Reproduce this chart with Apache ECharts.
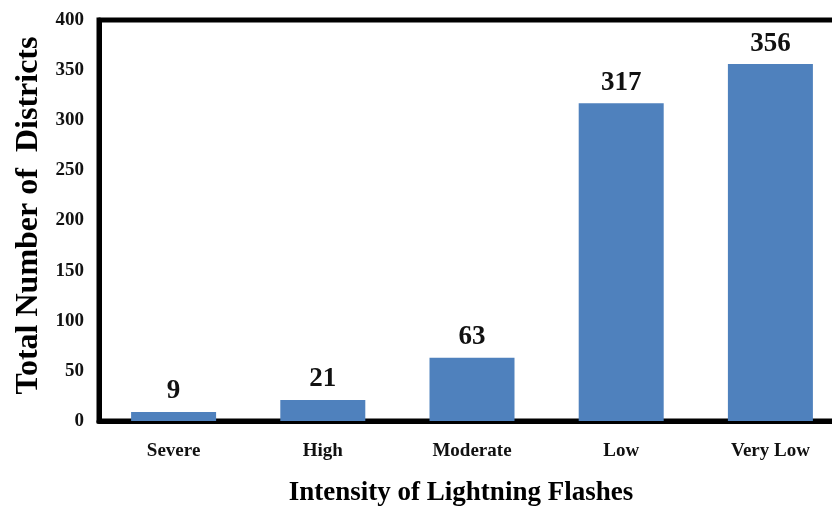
<!DOCTYPE html>
<html>
<head>
<meta charset="utf-8">
<script src="https://cdn.jsdelivr.net/npm/echarts@6/dist/echarts.min.js"></script>
<style>html,body{margin:0;padding:0;background:#fff}#c{width:832px;height:512px}</style>
</head>
<body>
<div id="c"></div>
<script>
const categories = ["Severe", "High", "Moderate", "Low", "Very Low"];
const districts = [9, 21, 63, 317, 356];
const yTicks = { min: 0, max: 400, interval: 50 };
const xTitle = "Intensity of Lightning Flashes";
const yTitle = "Total Number of  Districts";

const font = "'Liberation Serif', 'Times New Roman', serif";
const chart = echarts.init(document.getElementById('c'), null, { renderer: 'canvas' });
chart.setOption({
  animation: false,
  backgroundColor: '#ffffff',
  grid: { left: 99, top: 20, right: -13, bottom: 91, outerBoundsMode: 'none', containLabel: false, show: true, borderColor: '#000', borderWidth: 5, backgroundColor: 'transparent' },
  xAxis: {
    type: 'category',
    data: categories,
    axisLine: { show: true, lineStyle: { color: '#000', width: 5 } },
    axisTick: { show: false },
    axisLabel: { color: '#111', fontFamily: font, fontWeight: 'bold', fontSize: 19, margin: 21 },
    name: xTitle,
    nameLocation: 'middle',
    nameGap: 59,
    nameTextStyle: { color: '#000', fontFamily: font, fontWeight: 'bold', fontSize: 27, padding: [0, 22, 0, 0] }
  },
  yAxis: {
    type: 'value',
    min: yTicks.min, max: yTicks.max, interval: yTicks.interval,
    axisLine: { show: true, lineStyle: { color: '#000', width: 5 } },
    axisTick: { show: false },
    splitLine: { show: false },
    axisLabel: { color: '#111', fontFamily: font, fontWeight: 'bold', fontSize: 19, margin: 15 },
    name: yTitle,
    nameLocation: 'middle',
    nameGap: 54,
    nameTextStyle: { color: '#000', fontFamily: font, fontWeight: 'bold', fontSize: 32, padding: [0, 0, 0, 10] }
  },
  series: [{
    type: 'bar',
    data: districts,
    barWidth: 85,
    itemStyle: { color: '#4F81BD' },
    label: { show: true, position: 'top', distance: 7, color: '#111', fontFamily: font, fontWeight: 'bold', fontSize: 27 }
  }]
});
</script>
</body>
</html>
